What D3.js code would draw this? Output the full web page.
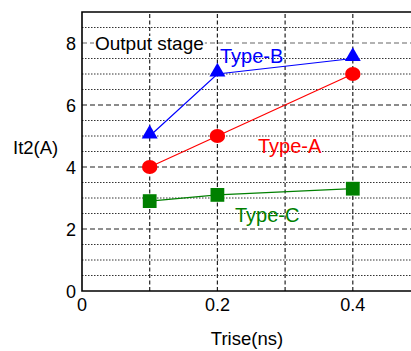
<!DOCTYPE html>
<html>
<head>
<meta charset="utf-8">
<script src="https://cdn.jsdelivr.net/npm/d3@7"></script>
<style>
  body { margin: 0; background: #fff; }
  text { font-family: "Liberation Sans", Arial, sans-serif; }
</style>
</head>
<body>
<div id="chart"></div>
<script>
// data
const trise = [0.1, 0.2, 0.4];
const typeA = [4, 5, 7];
const typeB = [5, 7, 7.5];
const typeC = [2.9, 3.1, 3.3];
const xTicks = [0, 0.2, 0.4];
const yTicks = [0, 2, 4, 6, 8];
const xGrid = [0.1, 0.2, 0.3, 0.4];
const yMajorGrid = [2, 4, 6, 8];
const yMinorGrid = [0.5, 1, 1.5, 2.5, 3, 3.5, 4.5, 5, 5.5, 6.5, 7, 7.5, 8.5];

let width = 411, height = 351;
let margin = {left: 82, top: 12, bottom: 60};

let svg = d3.select("#chart").append("svg")
    .attr("width", width)
    .attr("height", height);

// x axis runs past the right edge of the picture
let xScale = d3.scaleLinear().domain([0, 0.5]).range([margin.left, margin.left + 0.5 * 677]);
let yScale = d3.scaleLinear().domain([0, 9]).range([height - margin.bottom, margin.top]);

let plotRight = width + 10;

// grid
svg.selectAll(".minor").data(yMinorGrid).enter().append("line")
    .attr("x1", margin.left).attr("x2", plotRight)
    .attr("y1", d => yScale(d)).attr("y2", d => yScale(d))
    .attr("stroke", "#333").attr("stroke-width", 1)
    .attr("stroke-dasharray", "1.5,1.5");

svg.selectAll(".major").data(yMajorGrid).enter().append("line")
    .attr("x1", margin.left).attr("x2", plotRight)
    .attr("y1", d => yScale(d)).attr("y2", d => yScale(d))
    .attr("stroke", d => (d == 6 || d == 8) ? "#666" : "#222")
    .attr("stroke-width", d => (d == 6) ? 1.6 : 1.2)
    .attr("stroke-dasharray", "5,3");

svg.selectAll(".vgrid").data(xGrid).enter().append("line")
    .attr("x1", d => xScale(d)).attr("x2", d => xScale(d))
    .attr("y1", yScale(0)).attr("y2", yScale(9))
    .attr("stroke", "#222").attr("stroke-width", 1.2)
    .attr("stroke-dasharray", "4,2.5");

// frame
svg.append("path")
    .attr("d", "M" + plotRight + "," + yScale(9) + "H" + margin.left + "V" + yScale(0) + "H" + plotRight)
    .attr("fill", "none").attr("stroke", "#000").attr("stroke-width", 1.6);

// tick labels
svg.selectAll(".xt").data(xTicks).enter().append("text")
    .attr("x", d => xScale(d)).attr("y", yScale(0) + 20)
    .attr("text-anchor", "middle").style("font-size", "18px")
    .text(d => d == 0 ? "0" : d3.format(".1f")(d));

svg.selectAll(".yt").data(yTicks).enter().append("text")
    .attr("x", margin.left - 6).attr("y", d => yScale(d) + 7)
    .attr("text-anchor", "end").style("font-size", "18px")
    .text(d => d);

// axis titles
svg.append("text").attr("x", 13).attr("y", 154)
    .style("font-size", "18.5px").text("It2(A)");
svg.append("text").attr("x", 247).attr("y", 345)
    .attr("text-anchor", "middle").style("font-size", "18.5px").text("Trise(ns)");

// output stage label with white backing
let note = svg.append("text").attr("x", 95).attr("y", 50)
    .style("font-size", "19px").text("Output stage");
let bb = note.node().getBBox();
svg.insert("rect", "text:last-of-type")
    .attr("x", bb.x - 1).attr("y", bb.y + 3).attr("width", bb.width + 2).attr("height", bb.height - 6)
    .attr("fill", "#fff");

let series = [
  {name: "Type-A", values: typeA, color: "red", shape: d3.symbolCircle, size: 150, lx: 258, ly: 153},
  {name: "Type-B", values: typeB, color: "blue", shape: d3.symbolTriangle, size: 110, lx: 220, ly: 63},
  {name: "Type-C", values: typeC, color: "green", shape: d3.symbolSquare, size: 190, lx: 235, ly: 222}
];

let line = d3.line().x((d, i) => xScale(trise[i])).y(d => yScale(d));

series.forEach(function(s) {
  svg.append("path").attr("d", line(s.values))
     .attr("fill", "none").attr("stroke", s.color).attr("stroke-width", 1.2);

  svg.selectAll(".pt" + s.name).data(s.values).enter().append("path")
     .attr("d", d3.symbol().type(s.shape).size(s.size))
     .attr("transform", function(d, i) {
        let dy = s.shape == d3.symbolTriangle ? -2 : 0;
        return "translate(" + xScale(trise[i]) + "," + (yScale(d) + dy) + ")" + (s.shape == d3.symbolCircle ? " scale(1.12,1)" : "");
     })
     .attr("fill", s.color);

  svg.append("text").attr("x", s.lx).attr("y", s.ly)
     .style("font-size", "20px").attr("fill", s.color).text(s.name);
});
</script>
</body>
</html>
